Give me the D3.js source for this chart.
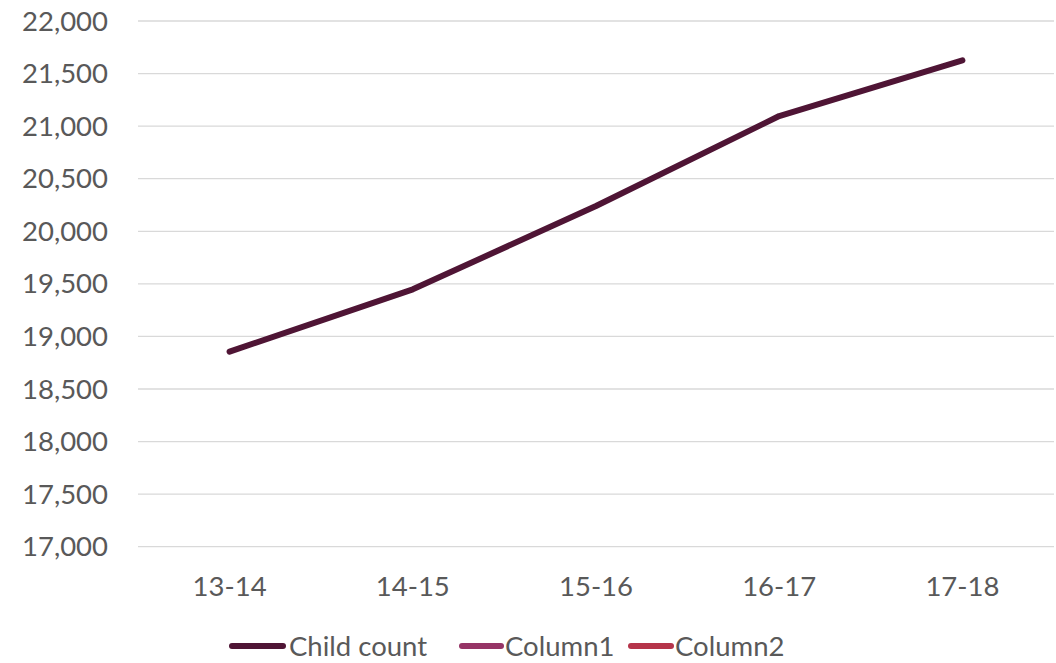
<!DOCTYPE html>
<html>
<head>
<meta charset="utf-8">
<script src="https://cdn.jsdelivr.net/npm/d3@7"></script>
<style>
  html, body { margin: 0; padding: 0; background: #fff; }
  svg { display: block; }
  text { font-family: Lato, "Open Sans", sans-serif; fill: #595959; }
</style>
</head>
<body>
<svg id="chart" width="1056" height="663"></svg>
<script>
const categories = ["13-14", "14-15", "15-16", "16-17", "17-18"];
const childCount = [18855, 19448, 20240, 21096, 21626];
const yTicks = [17000, 17500, 18000, 18500, 19000, 19500, 20000, 20500, 21000, 21500, 22000];
const seriesNames = ["Child count", "Column1", "Column2"];
const seriesColors = ["#4f1535", "#963466", "#b5344a"];

const svg = d3.select("#chart");
const plot = { left: 138, right: 1054, top: 21, bottom: 546.7 };

const x = d3.scaleBand().domain(categories).range([plot.left, plot.right]);
const y = d3.scaleLinear().domain([17000, 22000]).range([plot.bottom, plot.top]);

// gridlines
svg.append("g").selectAll("line").data(yTicks).join("line")
  .attr("x1", plot.left).attr("x2", plot.right)
  .attr("y1", d => y(d)).attr("y2", d => y(d))
  .attr("stroke", "#d9d9d9").attr("stroke-width", 1.3);

// y axis labels
const fmt = d3.format(",");
svg.append("g").selectAll("text").data(yTicks).join("text")
  .attr("x", 108).attr("y", d => y(d))
  .attr("dy", "0.35em")
  .attr("text-anchor", "end")
  .attr("font-size", 27.5)
  .text(d => fmt(d));

// x axis labels
svg.append("g").selectAll("text").data(categories).join("text")
  .attr("x", d => x(d) + x.bandwidth() / 2).attr("y", 586)
  .attr("dy", "0.35em")
  .attr("text-anchor", "middle")
  .attr("font-size", 27.5)
  .text(d => d);

// line
const line = d3.line()
  .x((d, i) => x(categories[i]) + x.bandwidth() / 2)
  .y(d => y(d));
svg.append("path").datum(childCount)
  .attr("d", line)
  .attr("fill", "none")
  .attr("stroke", seriesColors[0])
  .attr("stroke-width", 6)
  .attr("stroke-linecap", "round")
  .attr("stroke-linejoin", "round");

// legend
const legendLineX = [[232, 283], [462, 501], [631, 671]];
const legendTextX = [289, 505, 675];
const lg = svg.append("g").selectAll("g").data(seriesNames).join("g");
lg.append("line")
  .attr("x1", (d, i) => legendLineX[i][0]).attr("x2", (d, i) => legendLineX[i][1])
  .attr("y1", 646).attr("y2", 646)
  .attr("stroke", (d, i) => seriesColors[i])
  .attr("stroke-width", 6)
  .attr("stroke-linecap", "round");
lg.append("text")
  .attr("x", (d, i) => legendTextX[i]).attr("y", 646).attr("dy", "0.35em")
  .attr("font-size", 27.5)
  .text(d => d);
</script>
</body>
</html>
